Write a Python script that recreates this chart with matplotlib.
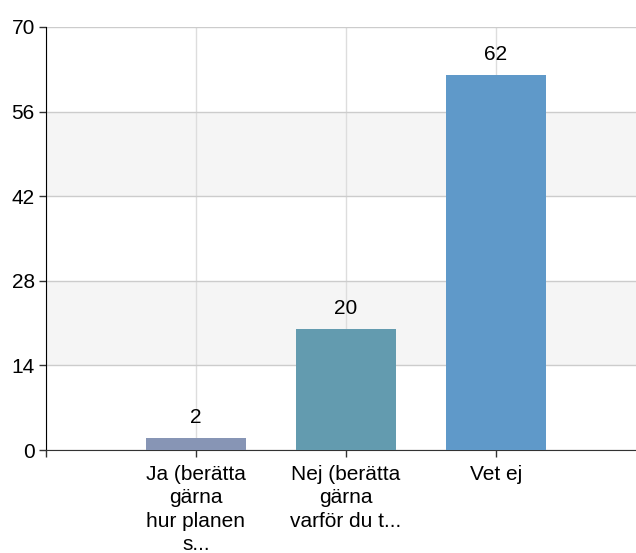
import matplotlib
matplotlib.use("Agg")
import matplotlib.pyplot as plt

categories = ["Ja (berätta\ngärna\nhur planen\ns...", "Nej (berätta\ngärna\nvarför du t...", "Vet ej"]
values = [2, 20, 62]
colors = ["#8795B5", "#639BAF", "#5F99C9"]
yticks = [0, 14, 28, 42, 56, 70]

plt.rcParams['font.family'] = ['Liberation Sans', 'DejaVu Sans']

fig = plt.figure(figsize=(6.36, 5.53), dpi=100)
W, H = 636, 553
ax = fig.add_axes([46 / W, (553 - 450) / H, 1 - 46 / W, 423 / H])

x = list(range(len(categories)))
ax.set_xlim(-1, -1 + 590 / 150)
ax.set_ylim(0, 70)

# alternating bands
for i in range(len(yticks) - 1):
    if i % 2 == 1:
        ax.axhspan(yticks[i], yticks[i + 1], color="#f5f5f5", zorder=0, lw=0)

ax.set_yticks(yticks)
ax.set_xticks([-1] + x)
ax.set_xticklabels([""] + categories)
ax.yaxis.grid(True, color="#cccccc", lw=1, zorder=1)
ax.xaxis.grid(True, color="#dddddd", lw=1, zorder=1)
ax.set_axisbelow(True)

bars = ax.bar(x, values, width=100 / 150, color=colors, zorder=3)
for xi, v in zip(x, values):
    ax.annotate(str(v), (xi, v), xytext=(0, 8), textcoords="offset points",
                ha="center", va="bottom", fontsize=15, color="#000000")

for s in ["top", "right"]:
    ax.spines[s].set_visible(False)
ax.spines["left"].set_color("#000000")
ax.spines["bottom"].set_color("#333333")
ax.tick_params(axis="both", length=5, width=1, color="#333333", labelsize=15, labelcolor="#000000")
ax.tick_params(axis="y", pad=3)
ax.tick_params(axis="x", pad=6)
for lbl in ax.get_xticklabels():
    lbl.set_linespacing(1.28)

fig.savefig("out.png", dpi=100)
